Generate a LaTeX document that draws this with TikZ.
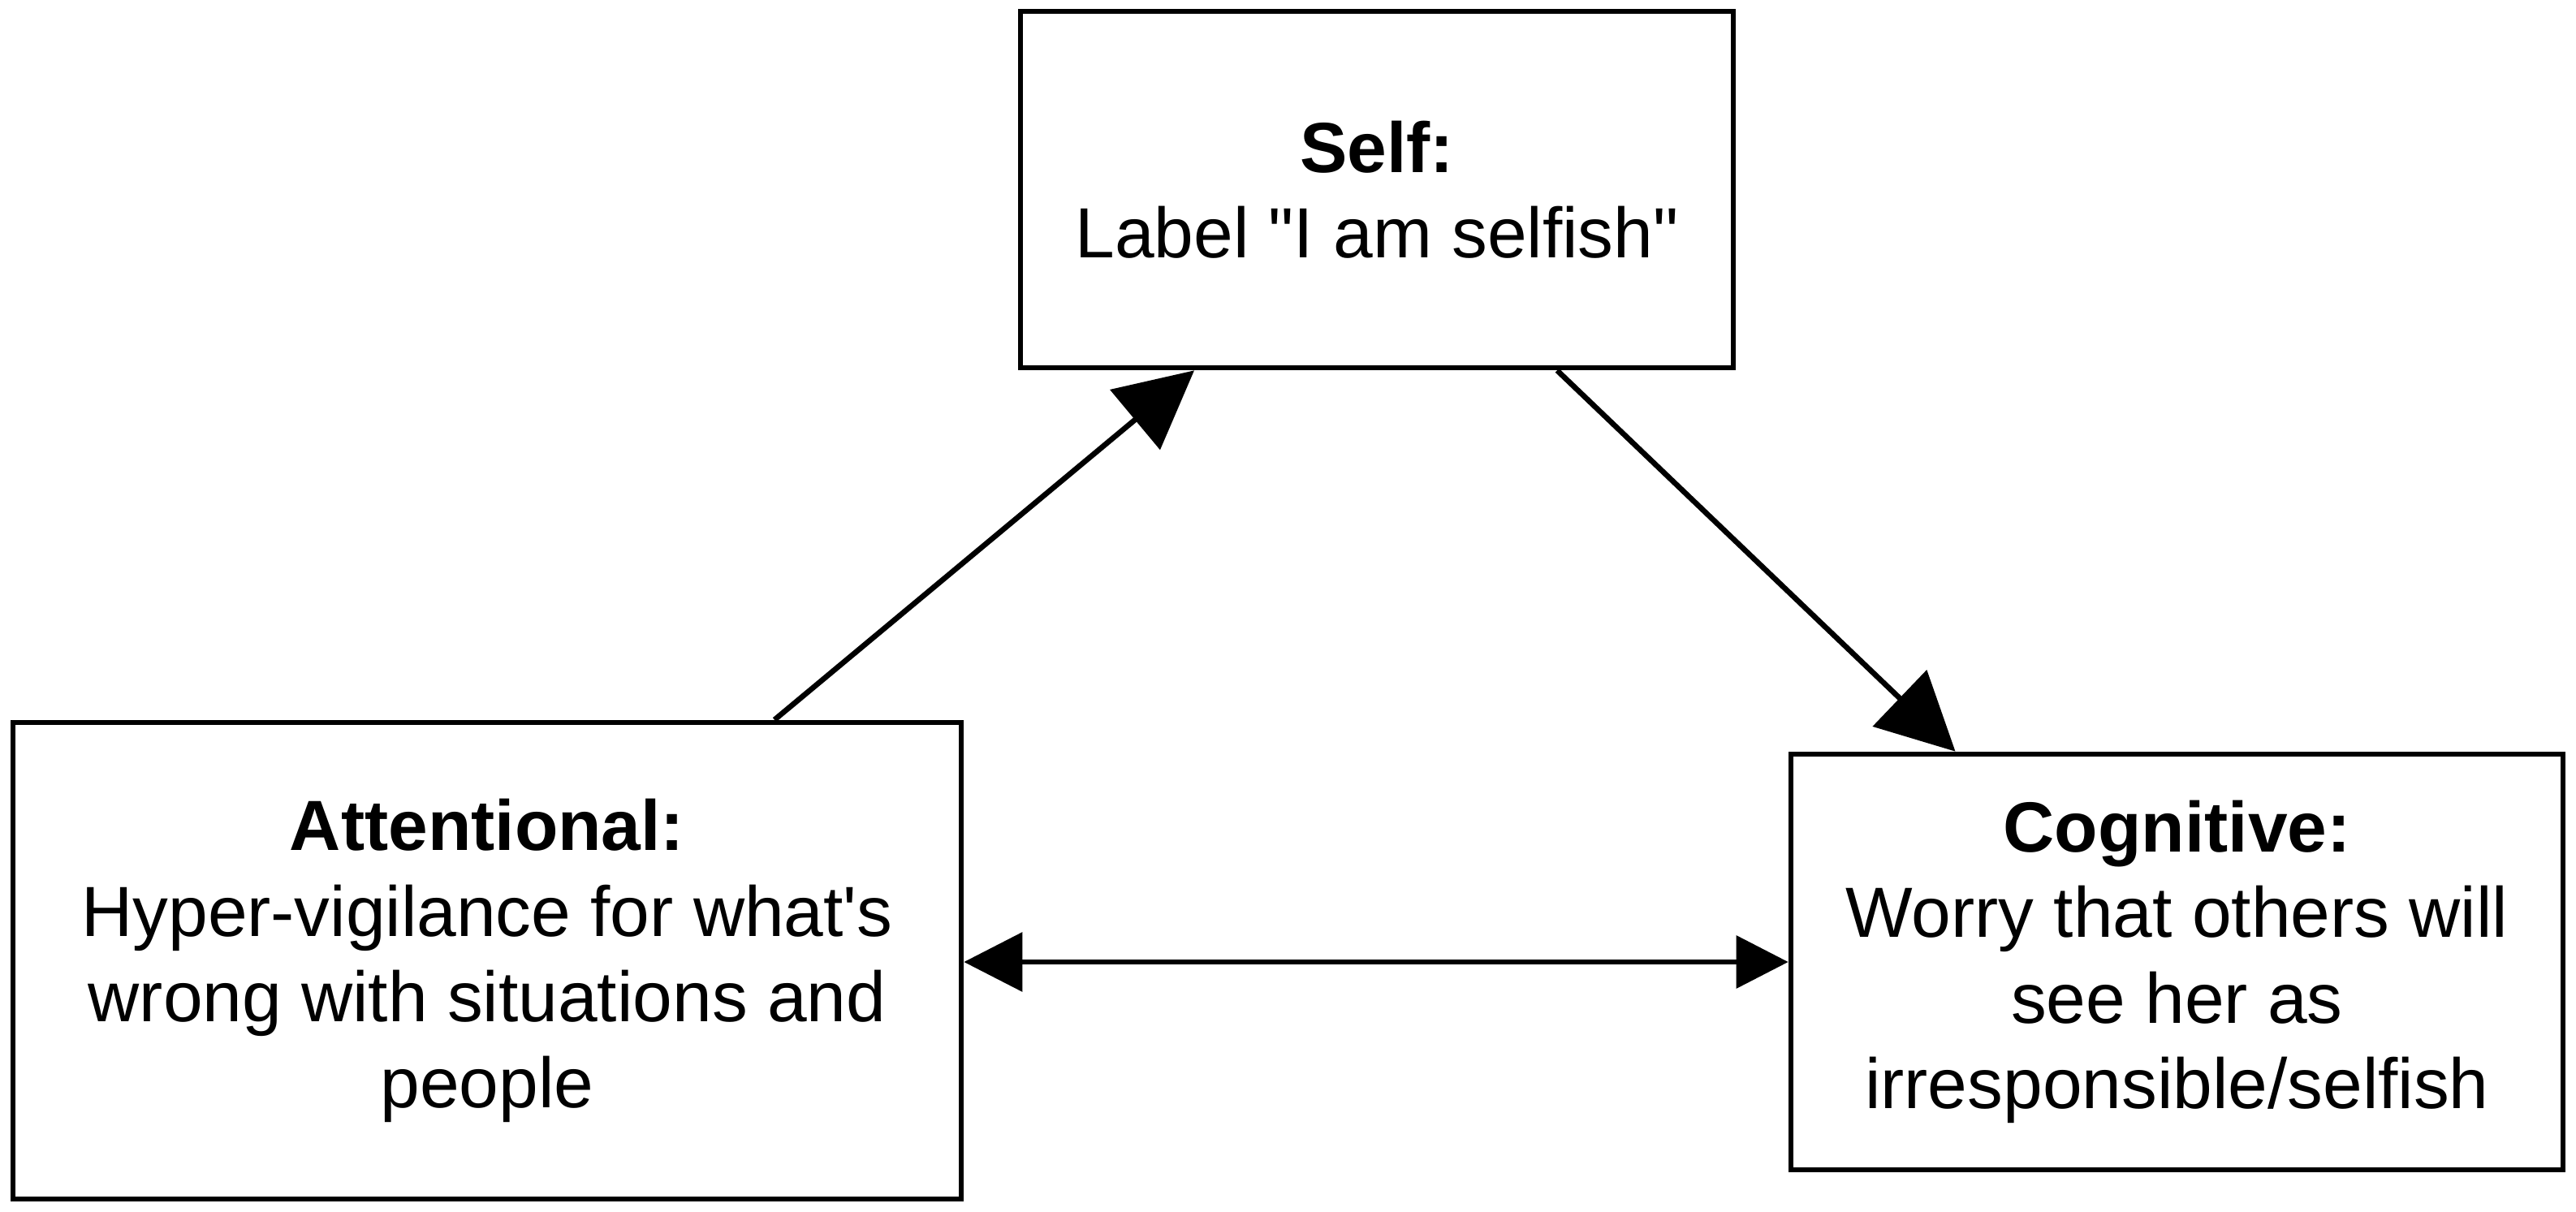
\documentclass[tikz,border=0pt]{standalone}
\usepackage{fontspec}
\setmainfont{Liberation Sans}[Ligatures=TeXOff]
\usetikzlibrary{arrows.meta,calc}
\begin{document}
\begin{tikzpicture}[
  box/.style={draw=black, line width=1.9pt, fill=white, rectangle, inner sep=0pt,
    align=center, font=\fontsize{24.9pt}{30pt}\selectfont},
  link/.style={draw=black, line width=1.9pt},
  bigtip/.style={-{Triangle[length=0.95cm, width=0.95cm]}},
  smalltip/.style={{Triangle[length=0.72cm, width=0.72cm]}-{Triangle[length=0.64cm, width=0.64cm]}}
]
\useasboundingbox[fill=white] (0,0) rectangle (31.73,-14.93);

\node[box, minimum width=8.78cm, minimum height=4.39cm] (self) at (16.96,-2.335)
  {\textbf{Self:}\\Label "I am selfish"};
\node[box, minimum width=11.68cm, minimum height=5.87cm] (att) at (6.00,-11.835)
  {\textbf{Attentional:}\\Hyper-vigilance for what's\\wrong with situations and\\people};
\node[box, minimum width=9.51cm, minimum height=5.12cm] (cog) at (26.815,-11.85)
  {\textbf{Cognitive:}\\Worry that others will\\see her as\\irresponsible/selfish};

\draw[link, bigtip] ([xshift=3.54cm]att.north) -- ([xshift=-2.25cm]self.south);
\draw[link, bigtip] ([xshift=2.22cm]self.south) -- ([xshift=-2.73cm]cog.north);
\draw[link, smalltip] (att.east |- cog.west) -- (cog.west);
\end{tikzpicture}
\end{document}
